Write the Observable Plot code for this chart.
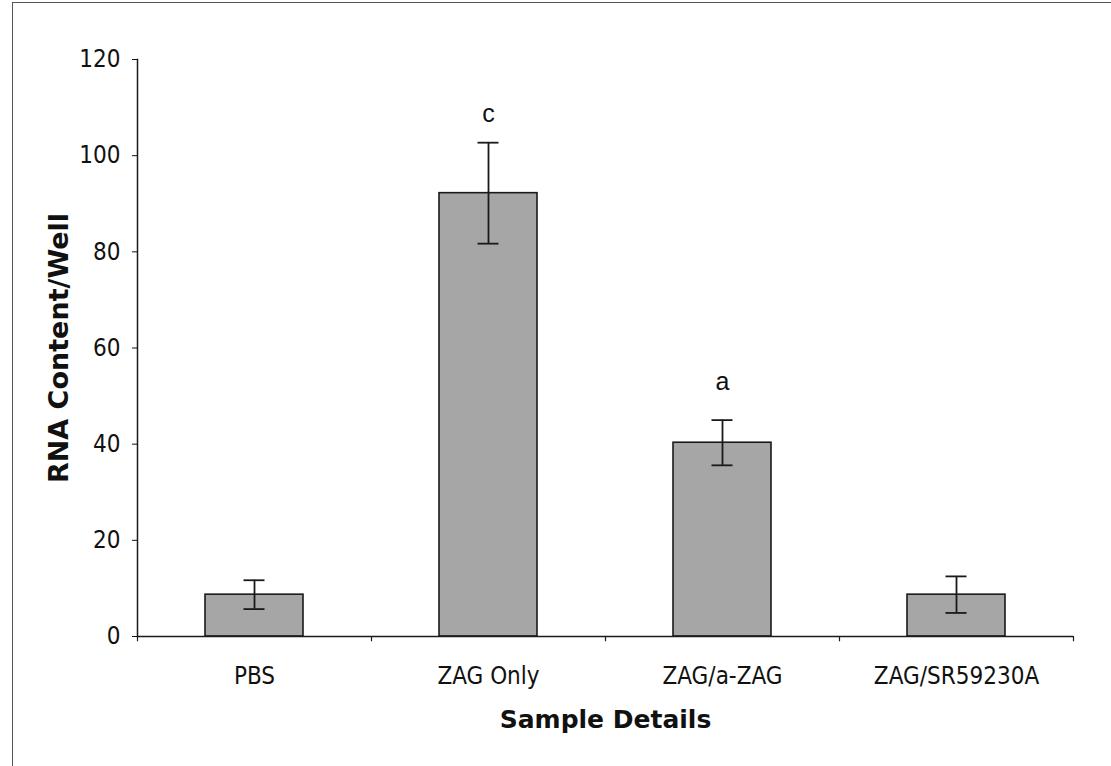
<!DOCTYPE html>
<html><head><meta charset="utf-8">
<script src="https://cdn.jsdelivr.net/npm/d3@7"></script>
<script src="https://cdn.jsdelivr.net/npm/@observablehq/plot@0.6"></script>
<style>
body{margin:0;background:#fff;overflow:hidden}
#wrap{position:relative;width:1111px;height:766px;overflow:hidden}
#border{position:absolute;left:12px;top:2px;width:1200px;height:900px;border-top:1.5px solid #555;border-left:1.5px solid #555}
#chart{position:absolute;left:0;top:0}
#chart [aria-label="y-axis label"] text{font-family:"DejaVu Sans",sans-serif;font-weight:bold;font-size:27px;fill:#111}
#chart [aria-label="x-axis label"] text{font-family:"DejaVu Sans",sans-serif;font-weight:bold;font-size:25px;fill:#111}
</style></head>
<body><div id="wrap"><div id="border"></div><div id="chart"></div></div>
<script>
const categories = ["PBS", "ZAG Only", "ZAG/a-ZAG", "ZAG/SR59230A"];
const means = [8.7, 92.2, 40.3, 8.7];
const errors = [3.0, 10.5, 4.7, 3.8];
const letters = ["", "c", "a", ""];
const letterY = [null, 108.7, 52.9, null];
const yTicks = [0, 20, 40, 60, 80, 100, 120];

const W = 1111, H = 766, mL = 137, mR = 38, mT = 59, mB = 130;
const step = (W - mL - mR) / categories.length;
const data = categories.map((c, i) => ({
  cat: c, mean: means[i], lo: means[i] - errors[i], hi: means[i] + errors[i],
  letter: letters[i], ly: letterY[i]
}));
const lineColor = "#1a1a1a";
const capInset = 38.5;
const plot = Plot.plot({
  width: W, height: H, marginLeft: mL, marginRight: mR, marginTop: mT, marginBottom: mB,
  style: {fontFamily: '"DejaVu Sans Condensed", "Liberation Sans Narrow", sans-serif', fontSize: "24px", color: "#111", background: "transparent"},
  x: {domain: categories, paddingInner: 0.58, paddingOuter: 0.29},
  y: {domain: [0, 120]},
  marks: [
    Plot.barY(data, {x: "cat", y: "mean", fill: "#a6a6a6", stroke: lineColor, strokeWidth: 1.6}),
    Plot.ruleX(data, {x: "cat", y1: "lo", y2: "hi", stroke: lineColor, strokeWidth: 1.8}),
    Plot.tickY(data, {x: "cat", y: "lo", stroke: lineColor, strokeWidth: 1.8, insetLeft: capInset, insetRight: capInset}),
    Plot.tickY(data, {x: "cat", y: "hi", stroke: lineColor, strokeWidth: 1.8, insetLeft: capInset, insetRight: capInset}),
    Plot.text(data.filter(d => d.letter), {x: "cat", y: "ly", text: "letter", fontFamily: '"Liberation Sans", Arial, sans-serif', fontSize: 25, fill: "#111"}),
    Plot.ruleY([0], {stroke: lineColor, strokeWidth: 1.5}),
    Plot.frame({anchor: "left", stroke: lineColor, strokeWidth: 1.5}),
    Plot.ruleX(categories, {x: d => d, y1: 0, y2: -1.1, dx: -step / 2, stroke: lineColor, strokeWidth: 1.2}),
    Plot.ruleX(categories.slice(-1), {x: d => d, y1: 0, y2: -1.1, dx: step / 2, stroke: lineColor, strokeWidth: 1.2}),
    Plot.axisY({ticks: yTicks, tickSize: 5, tickPadding: 12, label: "RNA Content/Well", labelAnchor: "center", labelOffset: 89, labelArrow: "none"}),
    Plot.axisX({tickSize: 0, tickPadding: 30, label: "Sample Details", labelAnchor: "center", labelOffset: 91, labelArrow: "none"})
  ]
});
document.getElementById("chart").appendChild(plot);
</script>
</body></html>
